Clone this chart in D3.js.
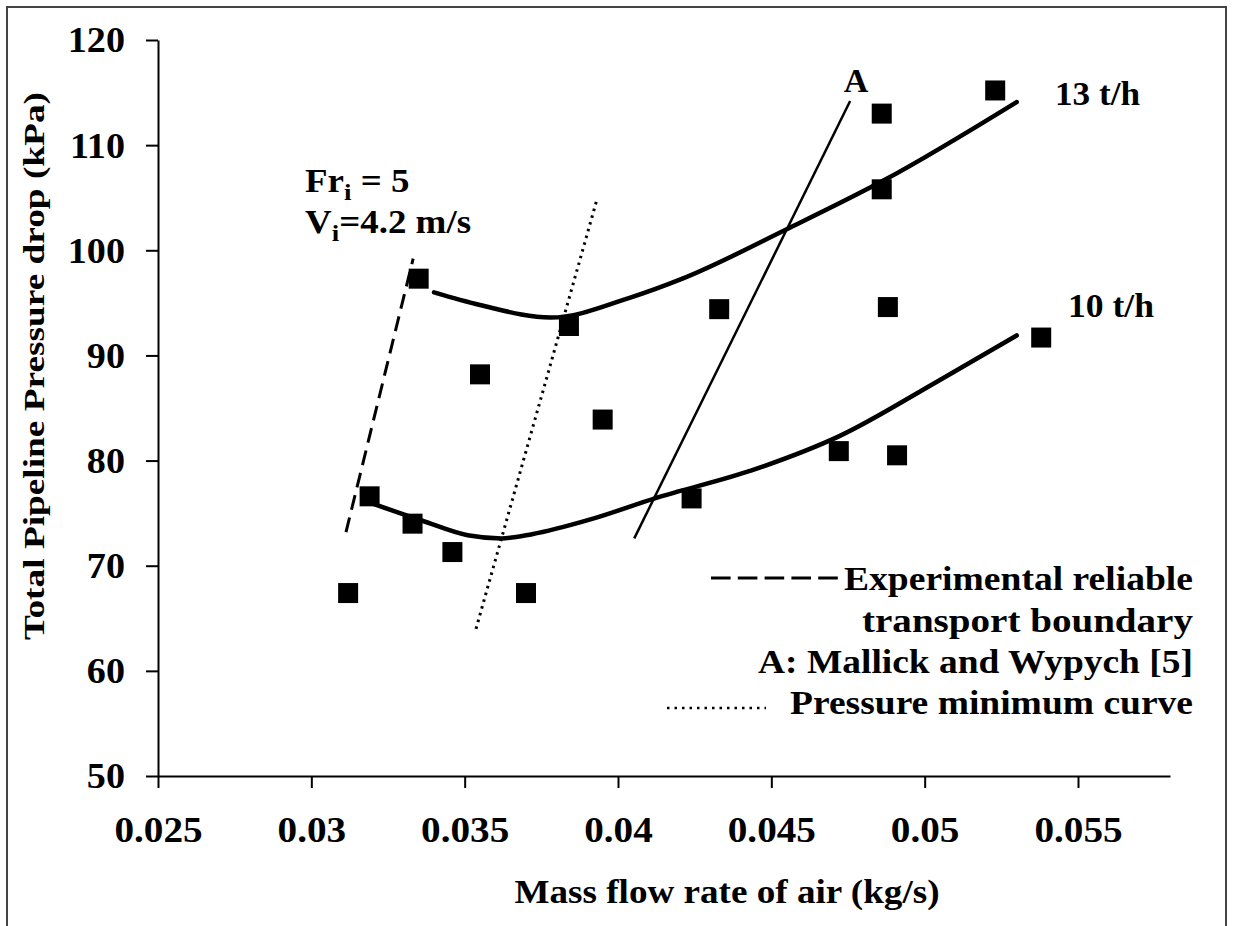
<!DOCTYPE html>
<html>
<head>
<meta charset="utf-8">
<script src="https://cdn.jsdelivr.net/npm/d3@7"></script>
<style>
  body { margin: 0; background: #fff; }
  text { font-family: "Liberation Serif", "Times New Roman", serif; font-weight: bold; fill: #000; }
</style>
</head>
<body>
<div id="main"></div>
<script>
// measured points (air mass flow kg/s, total pressure drop kPa)
const airFlow = [0.0312, 0.0319, 0.0333, 0.0346, 0.0335, 0.0355, 0.0370, 0.0384, 0.0395,
                 0.0424, 0.0433, 0.0472, 0.0486, 0.0486, 0.0488, 0.0491, 0.0523, 0.0538];
const pressure = [67.4, 76.6, 74.0, 71.3, 97.3, 88.2, 67.4, 92.8, 83.9,
                  76.4, 94.4, 80.9, 113.0, 105.8, 94.6, 80.5, 115.2, 91.7];

// fitted curves
const curve13X = [0.0340, 0.0355, 0.0378, 0.0404, 0.0421, 0.0455, 0.0487, 0.0530];
const curve13Y = [96.0, 94.8, 93.6, 95.5, 97.3, 102.0, 106.7, 114.1];
const curve10X = [0.0319, 0.0336, 0.0351, 0.0362, 0.0372, 0.0391, 0.0412, 0.0445, 0.0472, 0.0504, 0.0530];
const curve10Y = [76.0, 74.3, 72.9, 72.6, 73.0, 74.4, 76.4, 79.2, 82.3, 87.5, 91.9];

// boundary lines
const lineAX = [0.04053, 0.04757];
const lineAY = [72.6, 114.2];
const reliableX = [0.03113, 0.03332];
const reliableY = [73.2, 99.2];
const minimumX = [0.03537, 0.03929];
const minimumY = [64.0, 104.6];

const xTicks = [0.025, 0.03, 0.035, 0.04, 0.045, 0.05, 0.055];
const yTicks = [50, 60, 70, 80, 90, 100, 110, 120];

const W = 1233, H = 926;
const svg = d3.select('#main').append('svg')
  .attr('width', W).attr('height', H);

// outer frame (open at the bottom, cropped)
svg.append('rect')
  .attr('x', 7).attr('y', 7).attr('width', 1219).attr('height', 960)
  .attr('fill', 'none').attr('stroke', '#444').attr('stroke-width', 2);

const x = d3.scaleLinear().domain([0.025, 0.058]).range([158, 1170]);
const y = d3.scaleLinear().domain([50, 120]).range([776, 40]);

// stretch text horizontally like the original
function stretch(sel, k) {
  sel.each(function () {
    const w = this.getComputedTextLength();
    d3.select(this).attr('textLength', w * k).attr('lengthAdjust', 'spacingAndGlyphs');
  });
}

// axes
const gx = svg.append('g').attr('transform', `translate(0,${y(50)})`)
  .call(d3.axisBottom(x).tickValues(xTicks).tickFormat(d => String(d))
    .tickSize(12).tickSizeOuter(0).tickPadding(29));
const gy = svg.append('g').attr('transform', `translate(${x(0.025)},0)`)
  .call(d3.axisLeft(y).tickValues(yTicks).tickFormat(d => String(d))
    .tickSize(12).tickSizeOuter(0).tickPadding(21));

[gx, gy].forEach(g => {
  g.select('.domain').attr('stroke', '#000').attr('stroke-width', 2);
  g.selectAll('.tick line').attr('stroke', '#000').attr('stroke-width', 2);
  g.selectAll('.tick text')
    .style('font-family', '"Liberation Serif", "Times New Roman", serif')
    .style('font-weight', 'bold').style('font-size', '35px').attr('fill', '#000');
});
gy.selectAll('.tick text').attr('dy', '0.34em');
stretch(gx.selectAll('.tick text'), 1.12);
stretch(gy.selectAll('.tick text'), 1.09);

// axis titles
svg.append('text')
  .attr('x', 727).attr('y', 903).attr('text-anchor', 'middle')
  .style('font-size', '33px')
  .attr('textLength', 425).attr('lengthAdjust', 'spacingAndGlyphs')
  .text('Mass flow rate of air (kg/s)');

svg.append('text')
  .attr('transform', 'translate(44,366) rotate(-90)')
  .attr('text-anchor', 'middle')
  .style('font-size', '30px')
  .attr('textLength', 548).attr('lengthAdjust', 'spacingAndGlyphs')
  .text('Total Pipeline Pressure drop (kPa)');

// curves and lines
const line = d3.line().x(d => x(d[0])).y(d => y(d[1]));
const smooth = d3.line().x(d => x(d[0])).y(d => y(d[1])).curve(d3.curveMonotoneX);

svg.append('path')
  .datum(d3.zip(curve13X, curve13Y))
  .attr('d', smooth).attr('fill', 'none').attr('stroke', '#000')
  .attr('stroke-width', 4.5).attr('stroke-linecap', 'round');
svg.append('path')
  .datum(d3.zip(curve10X, curve10Y))
  .attr('d', smooth).attr('fill', 'none').attr('stroke', '#000')
  .attr('stroke-width', 4.5).attr('stroke-linecap', 'round');

svg.append('path')
  .datum(d3.zip(lineAX, lineAY))
  .attr('d', line).attr('fill', 'none').attr('stroke', '#000').attr('stroke-width', 2.5);
svg.append('path')
  .datum(d3.zip(reliableX, reliableY))
  .attr('d', line).attr('fill', 'none').attr('stroke', '#000')
  .attr('stroke-width', 3).attr('stroke-dasharray', '15,8');
svg.append('path')
  .datum(d3.zip(minimumX, minimumY))
  .attr('d', line).attr('fill', 'none').attr('stroke', '#000')
  .attr('stroke-width', 3).attr('stroke-dasharray', '2.5,4.5');

// data squares
const sq = 20;
svg.selectAll('rect.pt')
  .data(d3.zip(airFlow, pressure))
  .enter().append('rect')
    .attr('class', 'pt')
    .attr('x', d => x(d[0]) - sq / 2)
    .attr('y', d => y(d[1]) - sq / 2)
    .attr('width', sq).attr('height', sq)
    .attr('fill', '#000');

// annotations
svg.append('text').attr('x', 856).attr('y', 92).attr('text-anchor', 'middle')
  .style('font-size', '34px').text('A');
svg.append('text').attr('x', 1055).attr('y', 105).style('font-size', '33px')
  .attr('textLength', 85).attr('lengthAdjust', 'spacingAndGlyphs').text('13 t/h');
svg.append('text').attr('x', 1068).attr('y', 317).style('font-size', '33px')
  .attr('textLength', 86).attr('lengthAdjust', 'spacingAndGlyphs').text('10 t/h');

const fr = svg.append('text').attr('transform', 'translate(305,192) scale(1.12,1)').style('font-size', '33px');
fr.append('tspan').text('Fr');
fr.append('tspan').attr('dy', 8).style('font-size', '24px').text('i');
fr.append('tspan').attr('dy', -8).text(' = 5');

const vi = svg.append('text').attr('transform', 'translate(305,233) scale(1.12,1)').style('font-size', '33px');
vi.append('tspan').text('V');
vi.append('tspan').attr('dy', 8).style('font-size', '24px').text('i');
vi.append('tspan').attr('dy', -8).text('=4.2 m/s');

// legend
const legendLines = [
  ['Experimental reliable', 590, 349],
  ['transport boundary', 632, 331],
  ['A: Mallick and Wypych [5]', 673, 435],
  ['Pressure minimum curve', 714, 403]
];
svg.selectAll('text.legend')
  .data(legendLines)
  .enter().append('text')
    .attr('class', 'legend')
    .attr('x', 1193).attr('y', d => d[1])
    .attr('text-anchor', 'end')
    .style('font-size', '33px')
    .attr('textLength', d => d[2]).attr('lengthAdjust', 'spacingAndGlyphs')
    .text(d => d[0]);

svg.append('line').attr('x1', 711).attr('x2', 838).attr('y1', 578).attr('y2', 578)
  .attr('stroke', '#000').attr('stroke-width', 3).attr('stroke-dasharray', '19.6,7.2');
svg.append('line').attr('x1', 667).attr('x2', 766).attr('y1', 708).attr('y2', 708)
  .attr('stroke', '#000').attr('stroke-width', 2.5).attr('stroke-dasharray', '2.5,5');
</script>
</body>
</html>
